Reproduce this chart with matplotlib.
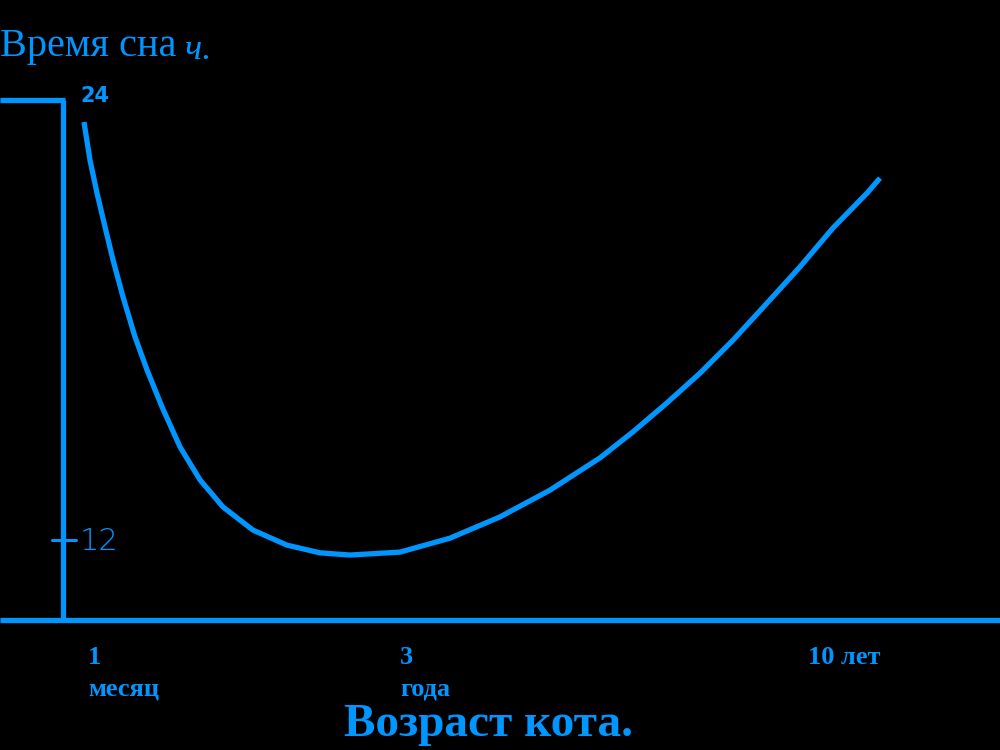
import matplotlib.pyplot as plt

BLUE = '#0096ff'

# position along the age axis and hours of sleep
age_pos = [84, 90, 97, 105, 113, 123, 135, 147, 162, 180, 200, 223, 253, 287,
           320, 350, 400, 450, 500, 550, 600, 633, 667, 700, 733, 767, 800,
           833, 867, 880]
sleep_hours = [23.40, 22.36, 21.46, 20.54, 19.64, 18.63, 17.54, 16.64, 15.63,
               14.54, 13.64, 12.90, 12.27, 11.86, 11.65, 11.59, 11.67, 12.05,
               12.63, 13.36, 14.24, 14.95, 15.74, 16.55, 17.45, 18.46, 19.45,
               20.51, 21.46, 21.87]

age_ticks = [88, 400, 808]
age_labels = ['1\nмесяц', '3\nгода', '10 лет']
hour_ticks = [24, 12]
hour_labels = ['24', '12']

fig = plt.figure(figsize=(10, 7.5), dpi=100, facecolor='black')
ax = fig.add_axes([0, 0, 1, 1])
ax.set_facecolor('black')
ax.set_xlim(0, 1000)
ax.set_ylim(6.273, 26.727)
ax.axis('off')

y_axis_x = 63
x_axis_h = 9.818

# axes drawn as lines
ax.plot([y_axis_x, y_axis_x], [x_axis_h, 24], color=BLUE, lw=3.8, solid_capstyle='butt')
ax.plot([0, 1000], [x_axis_h, x_axis_h], color=BLUE, lw=3.8, solid_capstyle='butt')
ax.plot([0, y_axis_x + 2], [24, 24], color=BLUE, lw=3.8, solid_capstyle='butt')
ax.plot([52, 76], [12, 12], color=BLUE, lw=2.2, solid_capstyle='round')

# the curve
ax.plot(age_pos, sleep_hours, color=BLUE, lw=3.8, solid_capstyle='butt',
        solid_joinstyle='round')

# hour marks
ax.text(80, hour_ticks[0] + 0.1, hour_labels[0], color=BLUE, fontsize=15,
        fontweight='bold', family='DejaVu Sans', va='center', ha='left')
ax.text(80, hour_ticks[1] - 0.05, hour_labels[1], color=BLUE, fontsize=22,
        fontweight='light', family='DejaVu Sans Condensed', va='center', ha='left')

# age marks
for x, lab in zip(age_ticks, age_labels):
    ax.text(x, 9.1, lab, color=BLUE, fontsize=19, fontweight='bold',
            family='Liberation Serif', va='top', ha='left', linespacing=1.45)

# titles
ax.text(0, 25.45, 'Время сна', color=BLUE, fontsize=29,
        family='Liberation Serif', va='center', ha='left')
ax.text(185, 25.35, 'ч.', color=BLUE, fontsize=26, style='italic',
        family='Liberation Serif', va='center', ha='left')
ax.text(488, 6.95, 'Возраст кота.', color=BLUE, fontsize=34, fontweight='bold',
        family='Liberation Serif', va='center', ha='center')

fig.savefig('out.png', dpi=100, facecolor='black')
